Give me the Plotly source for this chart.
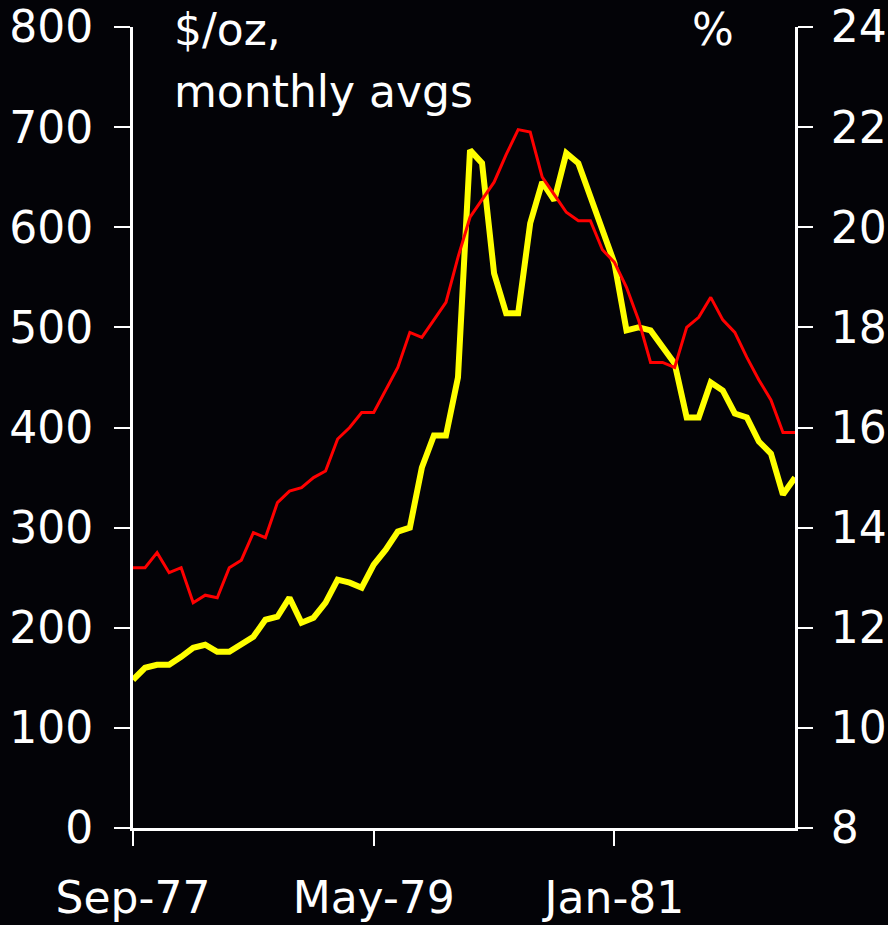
import plotly.graph_objects as go

months = ["Sep-77","Oct-77","Nov-77","Dec-77","Jan-78","Feb-78","Mar-78","Apr-78","May-78","Jun-78",
          "Jul-78","Aug-78","Sep-78","Oct-78","Nov-78","Dec-78","Jan-79","Feb-79","Mar-79","Apr-79",
          "May-79","Jun-79","Jul-79","Aug-79","Sep-79","Oct-79","Nov-79","Dec-79","Jan-80","Feb-80",
          "Mar-80","Apr-80","May-80","Jun-80","Jul-80","Aug-80","Sep-80","Oct-80","Nov-80","Dec-80",
          "Jan-81","Feb-81","Mar-81","Apr-81","May-81","Jun-81","Jul-81","Aug-81","Sep-81","Oct-81",
          "Nov-81","Dec-81","Jan-82","Feb-82","Mar-82","Apr-82"]

gold_usd_oz = [148,160,163,163,171,180,183,176,176,183,
               191,208,211,230,205,210,225,248,245,240,
               263,278,296,300,360,392,392,450,677,664,
               554,514,514,604,645,627,674,664,630,597,
               564,497,500,497,480,464,410,410,445,437,
               414,410,386,374,333,350]

rate_pct = [13.2,13.2,13.5,13.1,13.2,12.5,12.65,12.6,13.2,13.35,
            13.9,13.8,14.5,14.73,14.8,15.0,15.13,15.77,16.0,16.3,
            16.3,16.75,17.2,17.9,17.8,18.15,18.5,19.4,20.2,20.55,
            20.9,21.45,21.95,21.9,21.0,20.65,20.3,20.13,20.13,19.55,
            19.3,18.8,18.15,17.3,17.3,17.2,18.0,18.2,18.6,18.15,
            17.9,17.4,16.95,16.55,15.9,15.9]

x_ticks = ["Sep-77","May-79","Jan-81"]
left_ticks = [0,100,200,300,400,500,600,700,800]
right_ticks = [8,10,12,14,16,18,20,22,24]

FONT = "DejaVu Sans"
FS = 44
BG = "#030307"

fig = go.Figure()
fig.add_trace(go.Scatter(x=months, y=rate_pct, mode="lines", yaxis="y2",
                         line=dict(color="#ff0000", width=3), showlegend=False))
fig.add_trace(go.Scatter(x=months, y=gold_usd_oz, mode="lines",
                         line=dict(color="#ffff00", width=6), showlegend=False))

fig.update_layout(
    width=888, height=925,
    margin=dict(l=133, r=93, t=27, b=97, autoexpand=False),
    paper_bgcolor=BG, plot_bgcolor=BG,
    font=dict(family=FONT, size=FS, color="white"),
    xaxis=dict(type="category", categoryorder="array", categoryarray=months,
               range=[0, len(months) - 1], automargin=False,
               tickmode="array", tickvals=x_ticks, ticktext=x_ticks,
               ticks="outside", ticklen=15, tickwidth=2, tickcolor="white",
               showline=True, linecolor="white", linewidth=3,
               showgrid=False, zeroline=False, ticklabelstandoff=14),
    yaxis=dict(range=[0, 800], tickvals=left_ticks, automargin=False,
               ticks="outside", ticklen=16, tickwidth=2, tickcolor="white",
               showline=True, linecolor="white", linewidth=3,
               showgrid=False, zeroline=False, ticklabelstandoff=12),
    yaxis2=dict(range=[8, 24], tickvals=right_ticks, overlaying="y", side="right",
                automargin=False,
                ticks="outside", ticklen=15, tickwidth=2, tickcolor="white",
                showline=True, linecolor="white", linewidth=3,
                showgrid=False, zeroline=False, ticklabelstandoff=9),
    annotations=[
        dict(text="$/oz,", xref="paper", yref="paper", x=0.059, y=(828 - 29) / 801,
             xanchor="left", yanchor="middle", showarrow=False,
             font=dict(family=FONT, size=FS, color="white")),
        dict(text="monthly avgs", xref="paper", yref="paper", x=0.059, y=(828 - 92) / 801,
             xanchor="left", yanchor="middle", showarrow=False,
             font=dict(family=FONT, size=FS, color="white")),
        dict(text="%", xref="paper", yref="paper", x=0.876, y=(828 - 29) / 801,
             xanchor="center", yanchor="middle", showarrow=False,
             font=dict(family=FONT, size=FS, color="white")),
    ],
)

fig.write_html("out.html", config={"displayModeBar": False},
               post_script="document.body.style.margin='0';document.body.style.background='%s';" % BG)
